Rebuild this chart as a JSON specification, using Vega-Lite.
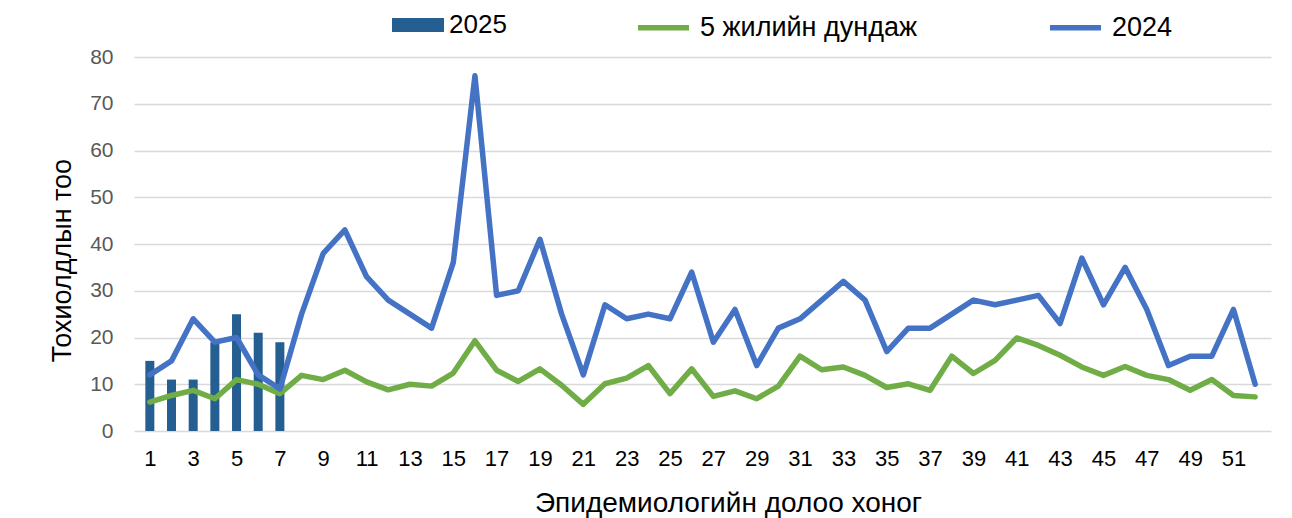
{
  "$schema": "https://vega.github.io/schema/vega-lite/v6.json",
  "width": 1137,
  "height": 374,
  "autosize": {"type": "none"},
  "padding": {"left": 134, "top": 57, "right": 21, "bottom": 87},
  "background": "#ffffff",
  "config": {
    "font": "Liberation Sans",
    "view": {"stroke": null}
  },
  "data": {
    "values": [
      {"week": 1, "series": "2025", "value": 15},
      {"week": 2, "series": "2025", "value": 11},
      {"week": 3, "series": "2025", "value": 11},
      {"week": 4, "series": "2025", "value": 19},
      {"week": 5, "series": "2025", "value": 25},
      {"week": 6, "series": "2025", "value": 21},
      {"week": 7, "series": "2025", "value": 19},

      {"week": 1, "series": "5 жилийн дундаж", "value": 6.2},
      {"week": 2, "series": "5 жилийн дундаж", "value": 7.6},
      {"week": 3, "series": "5 жилийн дундаж", "value": 8.7},
      {"week": 4, "series": "5 жилийн дундаж", "value": 6.9},
      {"week": 5, "series": "5 жилийн дундаж", "value": 11.0},
      {"week": 6, "series": "5 жилийн дундаж", "value": 10.0},
      {"week": 7, "series": "5 жилийн дундаж", "value": 8.0},
      {"week": 8, "series": "5 жилийн дундаж", "value": 11.9},
      {"week": 9, "series": "5 жилийн дундаж", "value": 11.0},
      {"week": 10, "series": "5 жилийн дундаж", "value": 13.0},
      {"week": 11, "series": "5 жилийн дундаж", "value": 10.5},
      {"week": 12, "series": "5 жилийн дундаж", "value": 8.8},
      {"week": 13, "series": "5 жилийн дундаж", "value": 10.0},
      {"week": 14, "series": "5 жилийн дундаж", "value": 9.6},
      {"week": 15, "series": "5 жилийн дундаж", "value": 12.4},
      {"week": 16, "series": "5 жилийн дундаж", "value": 19.3},
      {"week": 17, "series": "5 жилийн дундаж", "value": 13.0},
      {"week": 18, "series": "5 жилийн дундаж", "value": 10.6},
      {"week": 19, "series": "5 жилийн дундаж", "value": 13.3},
      {"week": 20, "series": "5 жилийн дундаж", "value": 9.8},
      {"week": 21, "series": "5 жилийн дундаж", "value": 5.7},
      {"week": 22, "series": "5 жилийн дундаж", "value": 10.1},
      {"week": 23, "series": "5 жилийн дундаж", "value": 11.3},
      {"week": 24, "series": "5 жилийн дундаж", "value": 14.0},
      {"week": 25, "series": "5 жилийн дундаж", "value": 8.0},
      {"week": 26, "series": "5 жилийн дундаж", "value": 13.3},
      {"week": 27, "series": "5 жилийн дундаж", "value": 7.4},
      {"week": 28, "series": "5 жилийн дундаж", "value": 8.6},
      {"week": 29, "series": "5 жилийн дундаж", "value": 6.9},
      {"week": 30, "series": "5 жилийн дундаж", "value": 9.6},
      {"week": 31, "series": "5 жилийн дундаж", "value": 16.0},
      {"week": 32, "series": "5 жилийн дундаж", "value": 13.1},
      {"week": 33, "series": "5 жилийн дундаж", "value": 13.7},
      {"week": 34, "series": "5 жилийн дундаж", "value": 11.9},
      {"week": 35, "series": "5 жилийн дундаж", "value": 9.3},
      {"week": 36, "series": "5 жилийн дундаж", "value": 10.1},
      {"week": 37, "series": "5 жилийн дундаж", "value": 8.7},
      {"week": 38, "series": "5 жилийн дундаж", "value": 16.0},
      {"week": 39, "series": "5 жилийн дундаж", "value": 12.3},
      {"week": 40, "series": "5 жилийн дундаж", "value": 15.1},
      {"week": 41, "series": "5 жилийн дундаж", "value": 19.9},
      {"week": 42, "series": "5 жилийн дундаж", "value": 18.3},
      {"week": 43, "series": "5 жилийн дундаж", "value": 16.2},
      {"week": 44, "series": "5 жилийн дундаж", "value": 13.7},
      {"week": 45, "series": "5 жилийн дундаж", "value": 11.9},
      {"week": 46, "series": "5 жилийн дундаж", "value": 13.8},
      {"week": 47, "series": "5 жилийн дундаж", "value": 11.9},
      {"week": 48, "series": "5 жилийн дундаж", "value": 11.0},
      {"week": 49, "series": "5 жилийн дундаж", "value": 8.7},
      {"week": 50, "series": "5 жилийн дундаж", "value": 11.0},
      {"week": 51, "series": "5 жилийн дундаж", "value": 7.6},
      {"week": 52, "series": "5 жилийн дундаж", "value": 7.3},

      {"week": 1, "series": "2024", "value": 12},
      {"week": 2, "series": "2024", "value": 15},
      {"week": 3, "series": "2024", "value": 24},
      {"week": 4, "series": "2024", "value": 19},
      {"week": 5, "series": "2024", "value": 20},
      {"week": 6, "series": "2024", "value": 12},
      {"week": 7, "series": "2024", "value": 9},
      {"week": 8, "series": "2024", "value": 25},
      {"week": 9, "series": "2024", "value": 38},
      {"week": 10, "series": "2024", "value": 43},
      {"week": 11, "series": "2024", "value": 33},
      {"week": 12, "series": "2024", "value": 28},
      {"week": 13, "series": "2024", "value": 25},
      {"week": 14, "series": "2024", "value": 22},
      {"week": 15, "series": "2024", "value": 36},
      {"week": 16, "series": "2024", "value": 76},
      {"week": 17, "series": "2024", "value": 29},
      {"week": 18, "series": "2024", "value": 30},
      {"week": 19, "series": "2024", "value": 41},
      {"week": 20, "series": "2024", "value": 25},
      {"week": 21, "series": "2024", "value": 12},
      {"week": 22, "series": "2024", "value": 27},
      {"week": 23, "series": "2024", "value": 24},
      {"week": 24, "series": "2024", "value": 25},
      {"week": 25, "series": "2024", "value": 24},
      {"week": 26, "series": "2024", "value": 34},
      {"week": 27, "series": "2024", "value": 19},
      {"week": 28, "series": "2024", "value": 26},
      {"week": 29, "series": "2024", "value": 14},
      {"week": 30, "series": "2024", "value": 22},
      {"week": 31, "series": "2024", "value": 24},
      {"week": 32, "series": "2024", "value": 28},
      {"week": 33, "series": "2024", "value": 32},
      {"week": 34, "series": "2024", "value": 28},
      {"week": 35, "series": "2024", "value": 17},
      {"week": 36, "series": "2024", "value": 22},
      {"week": 37, "series": "2024", "value": 22},
      {"week": 38, "series": "2024", "value": 25},
      {"week": 39, "series": "2024", "value": 28},
      {"week": 40, "series": "2024", "value": 27},
      {"week": 41, "series": "2024", "value": 28},
      {"week": 42, "series": "2024", "value": 29},
      {"week": 43, "series": "2024", "value": 23},
      {"week": 44, "series": "2024", "value": 37},
      {"week": 45, "series": "2024", "value": 27},
      {"week": 46, "series": "2024", "value": 35},
      {"week": 47, "series": "2024", "value": 26},
      {"week": 48, "series": "2024", "value": 14},
      {"week": 49, "series": "2024", "value": 16},
      {"week": 50, "series": "2024", "value": 16},
      {"week": 51, "series": "2024", "value": 26},
      {"week": 52, "series": "2024", "value": 10}
    ]
  },
  "encoding": {
    "x": {
      "field": "week",
      "type": "quantitative",
      "scale": {"domain": [0.5, 52.5], "nice": false, "zero": false},
      "axis": {
        "title": "Эпидемиологийн долоо хоног",
        "values": [1, 3, 5, 7, 9, 11, 13, 15, 17, 19, 21, 23, 25, 27, 29, 31, 33, 35, 37, 39, 41, 43, 45, 47, 49, 51],
        "grid": false,
        "ticks": false,
        "domain": false,
        "labelFontSize": 22,
        "labelColor": "#000000",
        "labelPadding": 17,
        "labelFlush": false,
        "titleFontSize": 28,
        "titleFontWeight": "normal",
        "titleColor": "#000000",
        "titleX": 594,
        "titleY": 80,
        "titleBaseline": "alphabetic",
        "titleAlign": "center"
      }
    },
    "y": {
      "field": "value",
      "type": "quantitative",
      "scale": {"domain": [0, 80], "nice": false},
      "axis": {
        "title": "Тохиолдлын тоо",
        "values": [0, 10, 20, 30, 40, 50, 60, 70, 80],
        "grid": true,
        "gridColor": "#D9D9D9",
        "gridWidth": 1.5,
        "ticks": false,
        "domain": false,
        "labelFontSize": 21,
        "labelColor": "#595959",
        "labelPadding": 21,
        "titleFontSize": 27,
        "titleFontWeight": "normal",
        "titleColor": "#000000",
        "titleX": -72,
        "titleY": 203,
        "titleAngle": 270,
        "titleBaseline": "middle",
        "titleAlign": "center"
      }
    }
  },
  "layer": [
    {
      "transform": [{"filter": "datum.series === '2025'"}],
      "mark": {"type": "bar", "size": 9},
      "encoding": {
        "color": {
          "field": "series",
          "type": "nominal",
          "scale": {"domain": ["2025"], "range": ["#255E91"]},
          "legend": {
            "title": null,
            "orient": "none",
            "legendX": 258,
            "legendY": -58,
            "symbolType": "M-1,-0.27H1V0.27H-1Z",
            "symbolSize": 2704,
            "symbolStrokeWidth": 0,
            "labelFontSize": 26,
            "labelColor": "#000000",
            "labelOffset": 5,
            "labelLimit": 400
          }
        }
      }
    },
    {
      "transform": [{"filter": "datum.series !== '2025'"}],
      "mark": {"type": "line", "strokeWidth": 5.5, "strokeJoin": "round", "strokeCap": "round"},
      "encoding": {
        "stroke": {
          "field": "series",
          "type": "nominal",
          "scale": {"domain": ["5 жилийн дундаж", "2024"], "range": ["#70AD47", "#4472C4"]},
          "legend": {
            "title": null,
            "orient": "none",
            "legendX": 501,
            "legendY": -58,
            "direction": "horizontal",
            "columns": 2,
            "columnPadding": 122,
            "symbolType": "stroke",
            "symbolSize": 2600,
            "symbolStrokeWidth": 5.5,
            "labelFontSize": 27,
            "labelColor": "#000000",
            "labelOffset": 8,
            "labelLimit": 400
          }
        }
      }
    }
  ]
}
